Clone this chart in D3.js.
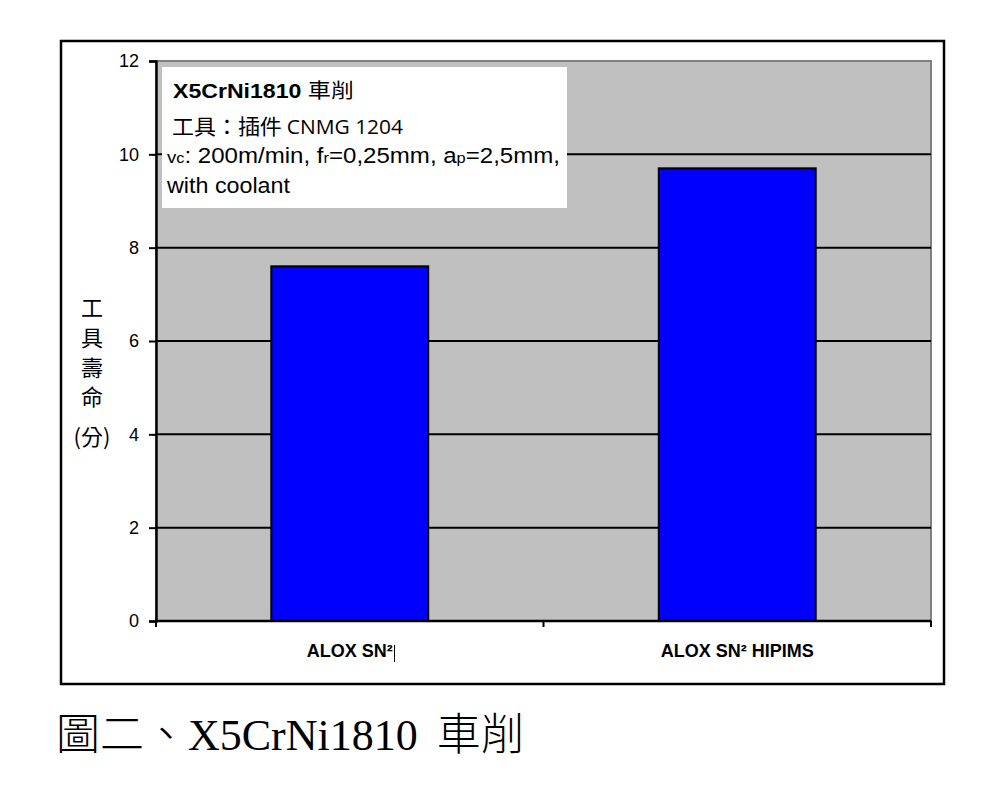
<!DOCTYPE html>
<html>
<head>
<meta charset="utf-8">
<script src="https://cdn.jsdelivr.net/npm/d3@7"></script>
<style>
  body { margin: 0; background: #fff; }
  svg { display: block; }
</style>
</head>
<body>
<div id="chart"></div>
<script>
// Tool life (minutes) per coating
const categories = ["ALOX SN²", "ALOX SN² HIPIMS"];
const toolLife   = [7.6, 9.7];
const yTicks     = [0, 2, 4, 6, 8, 10, 12];
const yTitle     = ["工", "具", "壽", "命", "(分)"];

const W = 1000, H = 800;
const plot = { left: 156, right: 931, top: 61, bottom: 621 };
const SANS = "Liberation Sans, Arial, sans-serif";
const CJK  = "Noto Sans CJK TC, sans-serif";

const svg = d3.select("#chart").append("svg")
  .attr("width", W).attr("height", H);

// outer frame
svg.append("rect")
  .attr("x", 61).attr("y", 41).attr("width", 883).attr("height", 643)
  .attr("fill", "#fff").attr("stroke", "#000").attr("stroke-width", 2.5);

const x = d3.scaleBand()
  .domain(categories)
  .range([plot.left, plot.right])
  .paddingInner(0.595).paddingOuter(0.2975);

const band = d3.scaleBand().domain(categories).range([plot.left, plot.right]);

const y = d3.scaleLinear().domain([0, 12]).range([plot.bottom, plot.top]);

// plot background with grey border
svg.append("rect")
  .attr("x", plot.left).attr("y", plot.top)
  .attr("width", plot.right - plot.left).attr("height", plot.bottom - plot.top)
  .attr("fill", "#c0c0c0").attr("stroke", "#808080").attr("stroke-width", 2);

// gridlines
svg.append("g")
  .selectAll("line")
  .data(yTicks.filter(d => d > 0 && d < 12))
  .join("line")
  .attr("x1", plot.left).attr("x2", plot.right)
  .attr("y1", d => y(d)).attr("y2", d => y(d))
  .attr("stroke", "#000").attr("stroke-width", 2);

// bars
svg.append("g")
  .selectAll("rect")
  .data(categories)
  .join("rect")
  .attr("x", d => x(d))
  .attr("width", x.bandwidth())
  .attr("y", (d, i) => y(toolLife[i]))
  .attr("height", (d, i) => y(0) - y(toolLife[i]))
  .attr("fill", "#0000ff")
  .attr("stroke", "#000").attr("stroke-width", 2);

// y axis
const yAxis = svg.append("g")
  .attr("transform", `translate(${plot.left},0)`)
  .call(d3.axisLeft(y).tickValues(yTicks).tickSize(7).tickPadding(10));
yAxis.select(".domain").attr("stroke", "#000").attr("stroke-width", 2.5);
yAxis.selectAll(".tick line").attr("stroke", "#000").attr("stroke-width", 2);
yAxis.selectAll(".tick text")
  .attr("font-family", SANS)
  .attr("font-size", 18).attr("fill", "#000");

// x axis: ticks at band boundaries
svg.append("line")
  .attr("x1", plot.left).attr("x2", plot.right)
  .attr("y1", plot.bottom).attr("y2", plot.bottom)
  .attr("stroke", "#000").attr("stroke-width", 2.5);

const boundaries = categories.map(d => band(d)).concat([plot.right]);
svg.append("g")
  .selectAll("line")
  .data(boundaries)
  .join("line")
  .attr("x1", d => d).attr("x2", d => d)
  .attr("y1", plot.bottom).attr("y2", plot.bottom + 6)
  .attr("stroke", "#000").attr("stroke-width", 2);

svg.append("g")
  .selectAll("text")
  .data(categories)
  .join("text")
  .attr("x", d => band(d) + band.bandwidth() / 2)
  .attr("y", 657)
  .attr("text-anchor", "middle")
  .attr("font-family", SANS)
  .attr("font-weight", "bold")
  .attr("font-size", 18)
  .text(d => d);

// stray text cursor after first label
svg.append("line")
  .attr("x1", 394.5).attr("x2", 394.5)
  .attr("y1", 645).attr("y2", 662)
  .attr("stroke", "#000").attr("stroke-width", 1);

// vertical y title
const titleY = [308, 338, 368, 397, 437];
svg.append("g")
  .selectAll("text")
  .data(yTitle)
  .join("text")
  .attr("x", 92)
  .attr("y", (d, i) => titleY[i])
  .attr("dy", "0.36em")
  .attr("text-anchor", "middle")
  .attr("font-family", CJK)
  .attr("font-size", 22)
  .text(d => d);

// annotation box
svg.append("rect")
  .attr("x", 162).attr("y", 67).attr("width", 405).attr("height", 141)
  .attr("fill", "#fff");

const note = svg.append("g")
  .attr("font-family", SANS)
  .attr("fill", "#000");

const t1 = note.append("text").attr("x", 173).attr("y", 98).attr("font-size", 20)
  .attr("textLength", 181).attr("lengthAdjust", "spacingAndGlyphs");
t1.append("tspan").attr("font-weight", "bold").text("X5CrNi1810 ");
t1.append("tspan").attr("font-family", CJK).text("車削");

const t2 = note.append("text").attr("x", 172).attr("y", 134).attr("font-size", 21)
  .attr("textLength", 231).attr("lengthAdjust", "spacingAndGlyphs");
t2.append("tspan").attr("font-family", CJK).text("工具：插件 ");
t2.append("tspan").attr("font-family", "Open Sans, sans-serif").attr("font-size", 20).text("CNMG 1204");

const t3 = note.append("text").attr("x", 167).attr("y", 163).attr("font-size", 22)
  .attr("textLength", 393).attr("lengthAdjust", "spacingAndGlyphs");
t3.append("tspan").attr("font-size", 17).text("v");
t3.append("tspan").attr("font-size", 15).text("c");
t3.append("tspan").text(": 200m/min, f");
t3.append("tspan").attr("font-size", 15).text("r");
t3.append("tspan").text("=0,25mm, a");
t3.append("tspan").attr("font-size", 15).text("p");
t3.append("tspan").text("=2,5mm,");

note.append("text").attr("x", 167).attr("y", 193).attr("font-size", 22)
  .attr("textLength", 123).attr("lengthAdjust", "spacingAndGlyphs")
  .text("with coolant");

// caption
const cap = svg.append("text").attr("x", 56).attr("y", 750).attr("font-size", 44);
cap.append("tspan").attr("font-family", CJK).attr("font-weight", 300).text("圖二、");
cap.append("tspan").attr("font-family", "Liberation Serif, Times New Roman, serif").text("X5CrNi1810 ");
cap.append("tspan").attr("font-family", CJK).attr("font-weight", 300).attr("dx", 8).text("車削");
</script>
</body>
</html>
